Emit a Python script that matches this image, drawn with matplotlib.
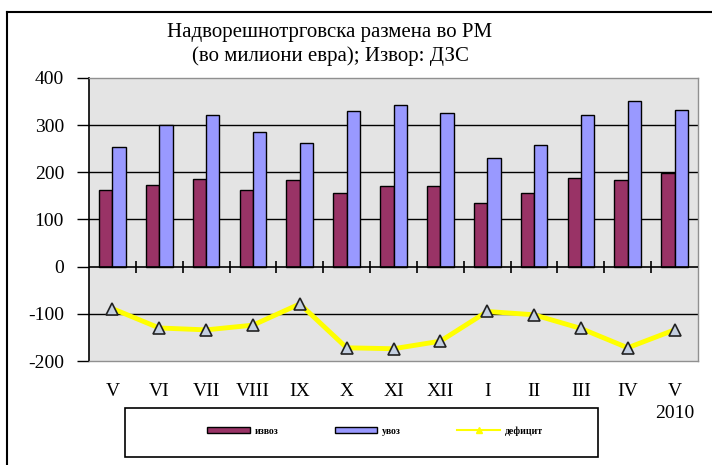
import matplotlib.pyplot as plt
import numpy as np
from matplotlib.lines import Line2D
from matplotlib.patches import Rectangle, Patch

# месеци (мај 2009 - мај 2010)
months = ["V", "VI", "VII", "VIII", "IX", "X", "XI", "XII",
          "I", "II", "III", "IV", "V"]
izvoz = [163, 173, 186, 163, 183, 157, 170, 170, 134, 157, 189, 183, 198]
uvoz = [253, 301, 321, 285, 263, 330, 343, 326, 230, 259, 321, 352, 333]
deficit = [-89, -130, -134, -124, -79, -172, -174, -158, -95, -102, -131, -172, -134]

plt.rcParams['font.family'] = ['Liberation Serif', 'DejaVu Serif']
plt.rcParams['axes.unicode_minus'] = False

fig = plt.figure(figsize=(7.12, 4.65), dpi=100)
ax = fig.add_axes([89 / 712, 1 - 361 / 465, 609 / 712, 283 / 465])
ax.set_facecolor("#e4e4e4")

x = np.arange(len(months))
w = 0.285
ax.bar(x - w / 2, izvoz, w, color="#993366", edgecolor="black", linewidth=1, zorder=3)
ax.bar(x + w / 2, uvoz, w, color="#9999ff", edgecolor="black", linewidth=1, zorder=3)
ax.plot(x, deficit, color="#ffff00", linewidth=3.5, marker="^", markersize=9,
        markerfacecolor="#c4cfe0", markeredgecolor="#222222", markeredgewidth=1.2,
        zorder=4)

# grid
for v in [-100, 100, 200, 300]:
    ax.axhline(v, color="black", linewidth=1, zorder=1)
ax.axhline(0, color="black", linewidth=1.2, zorder=5)
# category separators on zero line
ax.plot(x[:-1] + 0.5, [0] * (len(x) - 1), linestyle="none", marker="|",
        markersize=9, color="black", markeredgewidth=1.2, zorder=6)

ax.set_xlim(-0.5, len(months) - 0.5)
ax.set_ylim(-200, 400)
ax.set_yticks([-200, -100, 0, 100, 200, 300, 400])
ax.tick_params(axis="y", length=9, width=1, direction="out", labelsize=14, pad=9)
ax.set_xticks(x)
ax.set_xticklabels(months)
ax.tick_params(axis="x", length=0, labelsize=14, pad=16)

for s in ["top", "right", "bottom"]:
    ax.spines[s].set_color("#909090")
    ax.spines[s].set_linewidth(1)
ax.spines["left"].set_color("black")
ax.spines["left"].set_linewidth(1.2)

ax.text(x[-1], -0.187, "2010", transform=ax.get_xaxis_transform(),
        ha="center", va="center", fontsize=14)

fig.text(330 / 712, 1 - 32 / 465, "Надворешнотрговска размена во РМ",
         ha="center", va="center", fontsize=15)
fig.text(330 / 712, 1 - 56 / 465, "(во милиони евра); Извор: ДЗС",
         ha="center", va="center", fontsize=15)

# outer chart frame (cut at right/bottom)
fig.add_artist(Line2D([7 / 712, 7 / 712], [0, 1 - 12 / 465], color="black", linewidth=1.5))
fig.add_artist(Line2D([7 / 712, 1], [1 - 12 / 465, 1 - 12 / 465], color="black", linewidth=1.5))

# legend box
fig.add_artist(Rectangle((125 / 712, 1 - 457 / 465), 473 / 712, 49 / 465, transform=fig.transFigure,
                         fill=False, edgecolor="black", linewidth=1.2))
handles = [
    Patch(facecolor="#993366", edgecolor="black", label="извоз"),
    Patch(facecolor="#9999ff", edgecolor="black", label="увоз"),
    Line2D([], [], color="#ffff00", linewidth=1.5, marker="^", markersize=5,
           markerfacecolor="#ffff00", markeredgecolor="#ffff00", label="дефицит"),
]
fig.legend(handles=handles, loc="center", bbox_to_anchor=(375 / 712, 1 - 431 / 465), ncol=3,
           frameon=False, handlelength=4.4, handleheight=0.6, handletextpad=0.5,
           columnspacing=5.8, prop={"weight": "bold", "size": 7})

fig.savefig("out.png", dpi=100)
